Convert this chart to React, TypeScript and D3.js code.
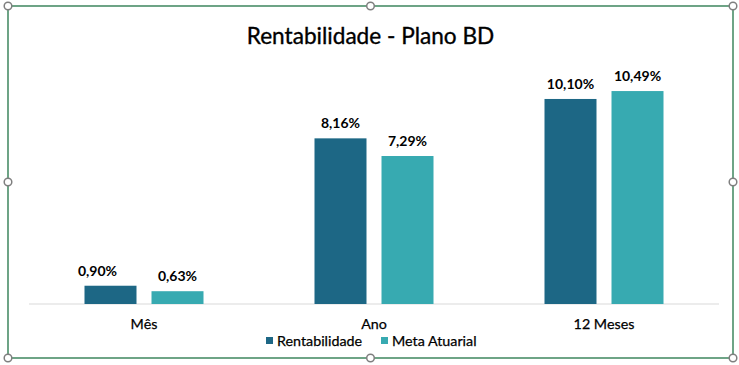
import { useMemo } from "react";
import * as d3 from "d3";

const categories = ["Mês", "Ano", "12 Meses"];
const seriesNames = ["Rentabilidade", "Meta Atuarial"];
const rentabilidade = [0.9, 8.16, 10.1];
const metaAtuarial = [0.63, 7.29, 10.49];
const seriesColors = ["#1d6785", "#37aab1"];

const WIDTH = 739;
const HEIGHT = 365;
const FONT = "Lato, 'Open Sans', sans-serif";

export default function App() {
  const series = [rentabilidade, metaAtuarial];

  const x0 = useMemo(
    () => d3.scaleBand<string>().domain(categories).range([29, 719]).padding(0),
    [],
  );
  const x1 = useMemo(
    () =>
      d3
        .scaleBand<string>()
        .domain(seriesNames)
        .range([0, 119])
        .paddingInner(0.224)
        .paddingOuter(0),
    [],
  );
  const y = useMemo(() => d3.scaleLinear().domain([0, 12]).range([304, 60.4]), []);

  const groupOffset = (x0.bandwidth() - 119) / 2;

  // selection handles around the chart frame
  const frame = { left: 8, top: 6, right: 733, bottom: 358 };
  const midX = (frame.left + frame.right) / 2;
  const midY = (frame.top + frame.bottom) / 2;
  const handles = [
    [frame.left, frame.top],
    [midX, frame.top],
    [frame.right, frame.top],
    [frame.left, midY],
    [frame.right, midY],
    [frame.left, frame.bottom],
    [midX, frame.bottom],
    [frame.right, frame.bottom],
  ];

  // the first label was nudged to the left in the original
  const labelShift = (ci: number, si: number) => (ci === 0 && si === 0 ? -13 : 0);

  return (
    <svg
      width={WIDTH}
      height={HEIGHT}
      viewBox={`0 0 ${WIDTH} ${HEIGHT}`}
      style={{ position: "absolute", left: 0, top: 0, background: "#fff" }}
      fontFamily={FONT}
    >
      {/* frame */}
      <rect
        x={frame.left}
        y={frame.top}
        width={frame.right - frame.left}
        height={frame.bottom - frame.top}
        fill="#fff"
        stroke="#217346"
        strokeWidth={1.3}
      />

      {/* title */}
      <text
        x={370.5}
        y={44}
        textAnchor="middle"
        fontSize={22.6}
        fill="#000"
        stroke="#000"
        strokeWidth={0.35}
      >
        Rentabilidade - Plano BD
      </text>

      {/* axis */}
      <line x1={29} x2={719} y1={y(0)} y2={y(0)} stroke="#d9d9d9" strokeWidth={1} />

      {/* bars */}
      {categories.map((cat, ci) => (
        <g key={cat} transform={`translate(${(x0(cat) ?? 0) + groupOffset},0)`}>
          {seriesNames.map((name, si) => {
            const v = series[si][ci];
            const bx = x1(name) ?? 0;
            return (
              <g key={name}>
                <rect
                  x={bx}
                  y={y(v)}
                  width={x1.bandwidth()}
                  height={y(0) - y(v)}
                  fill={seriesColors[si]}
                />
                <text
                  x={bx + x1.bandwidth() / 2 + labelShift(ci, si)}
                  y={y(v) - 10}
                  textAnchor="middle"
                  fontSize={14}
                  fontWeight="bold"
                  fill="#000"
                >
                  {v.toFixed(2).replace(".", ",")}%
                </text>
              </g>
            );
          })}
        </g>
      ))}

      {/* category labels */}
      {categories.map((cat) => (
        <text
          key={cat}
          x={(x0(cat) ?? 0) + x0.bandwidth() / 2}
          y={328.5}
          textAnchor="middle"
          fontSize={14.3}
          fill="#000"
          stroke="#000"
          strokeWidth={0.25}
        >
          {cat}
        </text>
      ))}

      {/* legend */}
      <g>
        {seriesNames.map((name, i) => {
          const lx = i === 0 ? 266 : 381;
          return (
            <g key={name}>
              <rect x={lx} y={337} width={7} height={7} fill={seriesColors[i]} />
              <text
                x={lx + 11}
                y={345.5}
                fontSize={14.3}
                fill="#000"
                stroke="#000"
                strokeWidth={0.25}
              >
                {name}
              </text>
            </g>
          );
        })}
      </g>

      {/* handles */}
      {handles.map(([hx, hy], i) => (
        <circle key={i} cx={hx} cy={hy} r={3.8} fill="#fff" stroke="#7f7f7f" strokeWidth={1.5} />
      ))}
    </svg>
  );
}
